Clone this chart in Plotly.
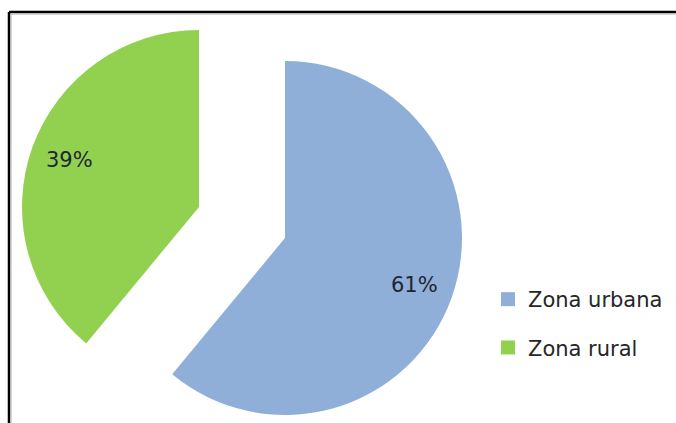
import math
import plotly.graph_objects as go

# Distribución de la población por zona
categorias = ["Zona urbana", "Zona rural"]
porcentajes = [61, 39]
colores = ["#8FAFD8", "#92D050"]

# Lienzo y geometría del pastel (px; y medida desde abajo)
W, H = 676, 423
CX, CY = 242, 200.5      # centro del pastel sin separar
R = 177                   # radio de cada porción
SEPARACION = 45.7         # desplazamiento de cada porción según su bisectriz
POS_ETIQUETA = 0.78       # distancia de la etiqueta al vértice, en fracción de R
FUENTE = "DejaVu Sans"

total = sum(porcentajes)
fig = go.Figure()

inicio = 0.0
for i, (cat, val) in enumerate(zip(categorias, porcentajes)):
    barrido = val / total * 360.0
    medio = math.radians(inicio + barrido / 2.0)
    dx, dy = math.sin(medio), math.cos(medio)
    vx, vy = CX + SEPARACION * dx, CY + SEPARACION * dy

    # Cada porción separada se dibuja como su propio pastel, con el resto transparente
    colores_porcion = ["rgba(0,0,0,0)"] * len(categorias)
    colores_porcion[i] = colores[i]
    fig.add_trace(go.Pie(
        labels=categorias,
        values=porcentajes,
        sort=False,
        direction="clockwise",
        rotation=0,
        marker=dict(colors=colores_porcion, line=dict(width=0)),
        textinfo="none",
        hoverinfo="label+percent",
        showlegend=False,
        domain=dict(x=[(vx - R) / W, (vx + R) / W], y=[(vy - R) / H, (vy + R) / H]),
    ))

    lx = vx + POS_ETIQUETA * R * dx
    ly = vy + POS_ETIQUETA * R * dy
    fig.add_annotation(
        x=lx / W, y=ly / H, xref="paper", yref="paper",
        text=f"{round(val / total * 100)}%",
        showarrow=False,
        font=dict(family=FUENTE, size=21, color="#1f2633"),
        xanchor="center", yanchor="middle",
    )
    inicio += barrido

# Entradas de la leyenda
for i, cat in enumerate(categorias):
    fig.add_trace(go.Scatter(
        x=[None], y=[None], mode="markers", name=cat,
        legendgroup=cat,
        marker=dict(symbol="square", size=14, color=colores[i]),
        hoverinfo="skip",
    ))

# Marco del gráfico (borde superior e izquierdo)
def px_x(x):
    return x / W

def px_y(y):
    return 1 - y / H

marco = [
    dict(x0=px_x(9), x1=px_x(W + 5), y0=px_y(12), y1=px_y(12), color="#000000", width=2.5),
    dict(x0=px_x(9), x1=px_x(9), y0=px_y(12), y1=px_y(H + 5), color="#000000", width=2.5),
    dict(x0=px_x(11), x1=px_x(W + 5), y0=px_y(14), y1=px_y(14), color="#b0b0b0", width=1),
    dict(x0=px_x(11), x1=px_x(11), y0=px_y(14), y1=px_y(H + 5), color="#b0b0b0", width=1),
]
for m in marco:
    fig.add_shape(type="line", xref="paper", yref="paper",
                  x0=m["x0"], x1=m["x1"], y0=m["y0"], y1=m["y1"],
                  line=dict(color=m["color"], width=m["width"]), layer="above")

fig.update_layout(
    width=W, height=H,
    margin=dict(l=0, r=0, t=0, b=0),
    paper_bgcolor="#ffffff",
    plot_bgcolor="#ffffff",
    xaxis=dict(visible=False),
    yaxis=dict(visible=False),
    showlegend=True,
    legend=dict(
        x=(528 - 40) / W, xanchor="left",
        y=1 - 279 / H, yanchor="top",
        font=dict(family=FUENTE, size=21, color="#262626"),
        tracegroupgap=18,
        bgcolor="rgba(0,0,0,0)",
        itemclick=False, itemdoubleclick=False,
    ),
)

fig.write_html("out.html")
